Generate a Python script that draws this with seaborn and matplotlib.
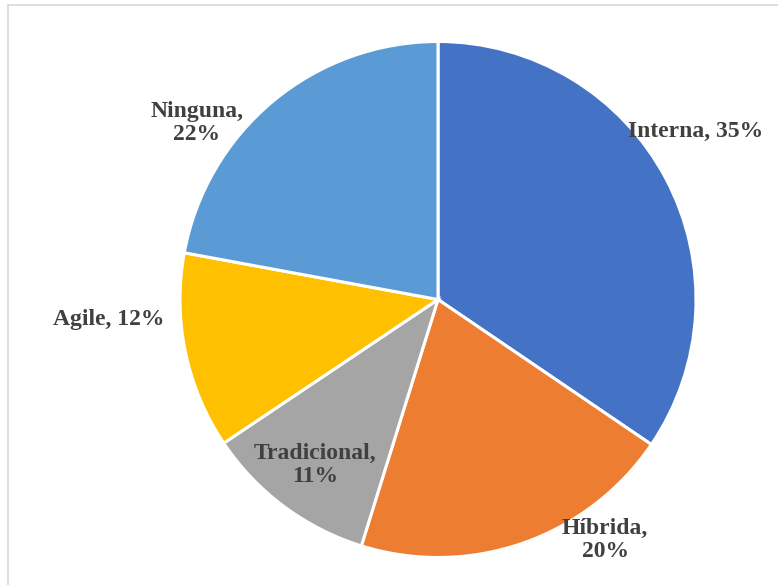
import matplotlib
matplotlib.use("Agg")
import matplotlib.pyplot as plt
import seaborn as sns
import numpy as np
from matplotlib.patches import Rectangle

categories = ["Interna", "Híbrida", "Tradicional", "Agile", "Ninguna"]
values = [34.5, 20.3, 10.8, 12.3, 22.1]
pct_labels = ["35%", "20%", "11%", "12%", "22%"]
colors = ["#4472C4", "#ED7D31", "#A5A5A5", "#FFC000", "#5B9BD5"]

# label layout: line break after the category or not, (radius factor, angle deg) - style only
label_break = [False, True, True, False, True]
label_pos = [(1.194, 33.1), (1.135, -55.2), (0.80, -126.6), (1.28, -176.5), (1.158, 143.8)]

sns.set_theme(style="white")
plt.rcParams['font.family'] = ['Liberation Serif', 'DejaVu Serif']

W, H = 778, 585
fig = plt.figure(figsize=(W / 100, H / 100), dpi=100)
fig.patch.set_facecolor("white")

# chart border (cropped on right/bottom)
fig.add_artist(Rectangle((8 / W, -0.05), 1.2, (H - 5) / H + 0.05,
                         transform=fig.transFigure, fill=False,
                         edgecolor="#D9D9D9", linewidth=1.2))

cx, cy, R = 438, 299.5, 258
ax = fig.add_axes([(cx - R) / W, (H - cy - R) / H, 2 * R / W, 2 * R / H])
wedges, _ = ax.pie(values, colors=colors, startangle=90, counterclock=False,
                   wedgeprops=dict(edgecolor="white", linewidth=2.2))
ax.set_xlim(-1, 1)
ax.set_ylim(-1, 1)
ax.set_aspect("equal")
ax.axis("off")

for cat, pct, brk, (r, ang) in zip(categories, pct_labels, label_break, label_pos):
    txt = f"{cat},\n{pct}" if brk else f"{cat}, {pct}"
    a = np.deg2rad(ang)
    ax.text(r * np.cos(a), r * np.sin(a), txt, ha="center", va="center",
            fontsize=17, fontweight="bold", color="#404040",
            linespacing=1.1, clip_on=False)

fig.savefig("out.png", dpi=100, facecolor="white")
